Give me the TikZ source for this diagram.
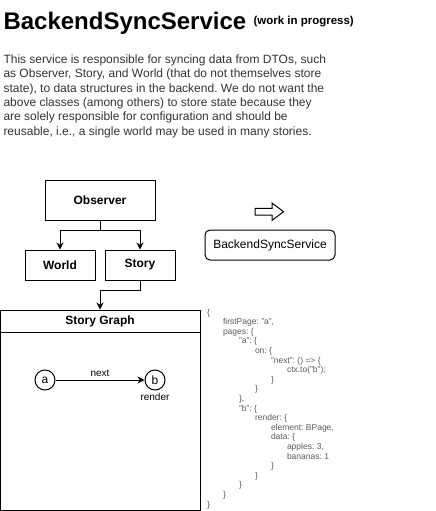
\documentclass[tikz,border=0pt]{standalone}
\usepackage{fontspec}
\setmainfont{Liberation Sans}
\usetikzlibrary{arrows.meta}
\frenchspacing
\definecolor{textgray}{HTML}{333333}
\definecolor{codegray}{HTML}{5A5A5A}
\newcommand{\codeind}{\hspace*{16pt}}

\begin{document}
\begin{tikzpicture}[x=1pt,y=-1pt,line width=1pt,
    box/.style={draw,minimum width=70pt,minimum height=30pt,font=\bfseries\fontsize{12}{14}\selectfont},
    rbox/.style={draw,rounded corners=5pt,minimum width=130pt,minimum height=30pt,font=\fontsize{12}{14}\selectfont},
    state/.style={draw,circle,minimum size=20pt,inner sep=0pt,font=\fontsize{12}{14}\selectfont},
    small/.style={font=\fontsize{10}{12}\selectfont,inner sep=0pt},
    arr/.style={-{Stealth[length=7pt,width=7pt]}},
    code/.style={anchor=north west,inner sep=0pt,align=left,text=codegray,font=\fontsize{8.5}{9.6}\selectfont}]
  \useasboundingbox (0,0) rectangle (436,511);

  % heading and description
  \node[anchor=base west,inner sep=0pt,font=\bfseries\fontsize{24}{28}\selectfont] (title) at (3,29.3) {BackendSyncService};
  \node[anchor=base west,inner sep=0pt,font=\bfseries\fontsize{11.5}{13}\selectfont] (wip) at (253,25) {(work in progress)};
  \node[anchor=north west,inner sep=0pt,align=left,text=textgray,font=\fontsize{12}{14.28}\selectfont] (desc) at (3,54.5) {%
    This service is responsible for syncing data from DTOs, such\\
    as Observer, Story, and World (that do not themselves store\\
    state), to data structures in the backend. We do not want the\\
    above classes (among others) to store state because they\\
    are solely responsible for configuration and should be\\
    reusable, i.e., a single world may be used in many stories.};

  % classes
  \node[box,minimum width=110pt,minimum height=40pt] (obs) at (100,200) {Observer};
  \node[box] (world) at (60,265) {World};
  \node[box] (story) at (140,265) {Story};
  \draw[arr] (obs.south) -- ++(0,10) -| (world.north);
  \draw[arr] (obs.south) -- ++(0,10) -| (story.north);

  % backend side
  \draw (255,208.3) -- (272,208.3) -- (272,203) -- (283.5,211.7) -- (272,220.4) -- (272,215) -- (255,215) -- cycle;
  \node[rbox] (bss) at (270,245) {BackendSyncService};

  % story graph
  \node[draw,minimum width=200pt,minimum height=200pt] (graph) at (100,410) {};
  \draw ([yshift=-23pt]graph.north west) -- ([yshift=-23pt]graph.north east);
  \node[font=\bfseries\fontsize{12}{14}\selectfont] (gtitle) at (100,321.5) {Story Graph};
  \draw[arr] (story.south) -- ++(0,10) -| (graph.north);

  \node[state] (a) at (45,380) {a};
  \node[state] (b) at (155,380) {b};
  \draw[arr] (a) -- (b);
  \node[small,anchor=base] (next) at (100,376) {next};
  \node[small,anchor=base] (render) at (155,400) {render};

  % story config
  \node[code] (json) at (206.5,308.5) {\{\\
    \codeind firstPage: "a",\\
    \codeind pages: \{\\
    \codeind\codeind "a": \{\\
    \codeind\codeind\codeind on: \{\\
    \codeind\codeind\codeind\codeind "next": () => \{\\
    \codeind\codeind\codeind\codeind\codeind ctx.to("b");\\
    \codeind\codeind\codeind\codeind \}\\
    \codeind\codeind\codeind \}\\
    \codeind\codeind \},\\
    \codeind\codeind "b": \{\\
    \codeind\codeind\codeind render: \{\\
    \codeind\codeind\codeind\codeind element: BPage,\\
    \codeind\codeind\codeind\codeind data: \{\\
    \codeind\codeind\codeind\codeind\codeind apples: 3,\\
    \codeind\codeind\codeind\codeind\codeind bananas: 1\\
    \codeind\codeind\codeind\codeind \}\\
    \codeind\codeind\codeind \}\\
    \codeind\codeind \}\\
    \codeind \}\\
    \}};
\end{tikzpicture}
\end{document}
